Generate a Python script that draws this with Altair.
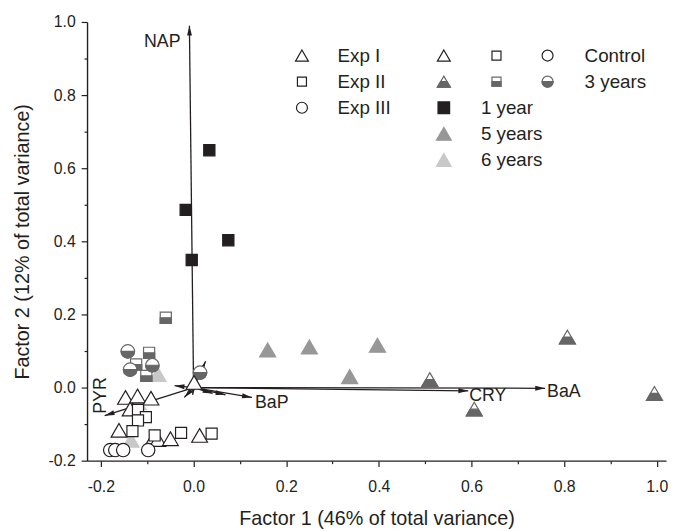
import math
import altair as alt
import pandas as pd

# ----------------------------- data -----------------------------
exp_names = ["Exp I", "Exp II", "Exp III"]
treatments = ["Control", "3 years", "1 year", "5 years", "6 years"]

# sample scores  (Factor 1, Factor 2)
ctrl_exp1_x = [0.001, -0.147, -0.121, -0.092, -0.137, -0.161, -0.085, -0.077, -0.050, 0.013]
ctrl_exp1_y = [0.014, -0.027, -0.023, -0.029, -0.059, -0.117, -0.135, -0.142, -0.140, -0.131]
ctrl_exp2_x = [-0.120, -0.103, -0.120, -0.132, -0.084, -0.027, 0.039]
ctrl_exp2_y = [-0.061, -0.081, -0.090, -0.119, -0.131, -0.124, -0.126]
ctrl_exp3_x = [-0.180, -0.169, -0.152, -0.098]
ctrl_exp3_y = [-0.171, -0.171, -0.171, -0.171]
y3_exp1_x = [0.510, 0.606, 0.807, 0.995]
y3_exp1_y = [0.022, -0.059, 0.138, -0.016]
y3_exp2_x = [-0.060, -0.096, -0.124, -0.102]
y3_exp2_y = [0.191, 0.095, 0.063, 0.032]
y3_exp3_x = [-0.142, -0.137, -0.089, 0.014]
y3_exp3_y = [0.099, 0.049, 0.061, 0.041]
y1_exp2_x = [0.034, -0.017, -0.004, 0.075]
y1_exp2_y = [0.649, 0.486, 0.349, 0.403]
y5_exp1_x = [0.160, 0.250, 0.397, 0.337]
y5_exp1_y = [0.103, 0.111, 0.116, 0.030]
y6_exp1_x = [-0.077, -0.120, -0.135]
y6_exp1_y = [0.036, -0.041, -0.144]

# variable loadings
load_names = ["NAP", "BaA", "CRY", "BaP", "PYR", "v6", "v7", "v8", "v9", "v10", "v11"]
load_labels = ["NAP", "BaA", "CRY", "BaP", "PYR", "", "", "", "", "", ""]
load_x = [-0.009, 0.759, 0.593, 0.126, -0.192, 0.026, -0.041, -0.020, -0.002, 0.041, 0.069]
load_y = [0.990, -0.002, -0.009, -0.027, -0.077, 0.072, 0.005, -0.027, -0.020, -0.016, -0.020]

x_ticks = [-0.2, -0.1, 0.0, 0.1, 0.2, 0.3, 0.4, 0.5, 0.6, 0.7, 0.8, 0.9, 1.0]
y_ticks = [-0.2, -0.1, 0.0, 0.1, 0.2, 0.3, 0.4, 0.5, 0.6, 0.7, 0.8, 0.9, 1.0]
x_title = "Factor 1 (46% of total variance)"
y_title = "Factor 2 (12% of total variance)"

# ----------------------------- style -----------------------------
FONT = "Liberation Sans"
INK = "#231f20"
DARK = "#666666"
GRAY5 = "#979797"
GRAY6 = "#c8c8c8"
W, H = 586, 444
XDOM = [-0.23, 1.02]
YDOM = [-0.2, 1.0]

TRI = "M0,-0.866L1,0.866L-1,0.866Z"
TRI_L = "M0,-1L1.15,1L-1.15,1Z"
TRI_HALF = "M-0.5,0L0.5,0L1,0.866L-1,0.866Z"
SQ = "M-0.7,-0.7L0.7,-0.7L0.7,0.7L-0.7,0.7Z"
SQ_L = "M-0.9,-0.9L0.9,-0.9L0.9,0.9L-0.9,0.9Z"
SQ_HALF = "M-0.7,0L0.7,0L0.7,0.7L-0.7,0.7Z"
CIRC = "M-0.85,0A0.85,0.85 0 1,1 0.85,0A0.85,0.85 0 1,1 -0.85,0Z"
CIRC_HALF = "M-0.85,0A0.85,0.85 0 0,0 0.85,0Z"
HEAD = "M0,0L0.5,2L-0.5,2Z"

shape_of_exp = {"Exp I": "tri", "Exp II": "sq", "Exp III": "circ"}

# ----------------------------- tables -----------------------------
series = [
    ("Exp I", "6 years", y6_exp1_x, y6_exp1_y),
    ("Exp I", "5 years", y5_exp1_x, y5_exp1_y),
    ("Exp II", "3 years", y3_exp2_x, y3_exp2_y),
    ("Exp III", "3 years", y3_exp3_x, y3_exp3_y),
    ("Exp I", "3 years", y3_exp1_x, y3_exp1_y),
    ("Exp I", "Control", ctrl_exp1_x, ctrl_exp1_y),
    ("Exp II", "Control", ctrl_exp2_x, ctrl_exp2_y),
    ("Exp III", "Control", ctrl_exp3_x, ctrl_exp3_y),
    ("Exp II", "1 year", y1_exp2_x, y1_exp2_y),
]
rows = []
for exp, trt, xs, ys in series:
    for xv, yv in zip(xs, ys):
        rows.append(dict(x=xv, y=yv, exp=exp, trt=trt, part=shape_of_exp[exp], key=trt, ord=len(rows)))
        if trt == "3 years":
            rows.append(dict(x=xv, y=yv, exp=exp, trt=trt, part=shape_of_exp[exp] + "_half", key="half", ord=len(rows)))
pts_df = pd.DataFrame(rows)

pxx = W / (XDOM[1] - XDOM[0])
pxy = H / (YDOM[1] - YDOM[0])
load_df = pd.DataFrame({"name": load_names, "label": load_labels, "x": load_x, "y": load_y})
load_df["x0"] = 0.0
load_df["y0"] = 0.0
load_df["ang"] = [
    (math.degrees(math.atan2(xv * pxx, yv * pxy)) + 360) % 360 for xv, yv in zip(load_x, load_y)
]

# ----------------------------- axes -----------------------------
lab_expr = ("abs(round(datum.value*10)) % 2 == 0 ? "
            "(datum.value < -0.001 ? '-' : '') + format(abs(datum.value), '.1f') : ''")
tick_size = {"condition": {"test": "abs(round(datum.value*10)) % 2 == 1", "value": 3}, "value": 6}

xaxis = alt.Axis(values=x_ticks, title=x_title, labelExpr=lab_expr, tickSize=tick_size,
                 labelOverlap=False, labelFlush=False, labelPadding=12, titlePadding=15)
yaxis = alt.Axis(values=y_ticks, title=y_title, labelExpr=lab_expr, tickSize=tick_size,
                 labelOverlap=False, labelFlush=False, labelPadding=6, titlePadding=16)
xscale = alt.Scale(domain=XDOM, nice=False, zero=False)
yscale = alt.Scale(domain=YDOM, nice=False, zero=False)


def X(f):
    return alt.X(f, type="quantitative", scale=xscale, axis=xaxis)


def Y(f):
    return alt.Y(f, type="quantitative", scale=yscale, axis=yaxis)


# ----------------------------- layers -----------------------------
rules = alt.Chart(load_df).mark_rule(color=INK, strokeWidth=1.3).encode(
    x=X("x"), y=Y("y"), x2="x0:Q", y2="y0:Q")

heads = alt.Chart(load_df).mark_point(shape=HEAD, filled=True, color=INK, size=100,
                                      opacity=1, strokeWidth=0).encode(
    x=X("x"), y=Y("y"), angle=alt.Angle("ang:Q", scale=None))

pts = alt.Chart(pts_df).mark_point(opacity=1, strokeWidth=1.2).encode(
    x=X("x"), y=Y("y"),
    shape=alt.Shape("part:N", legend=None, scale=alt.Scale(
        domain=["tri", "sq", "circ", "tri_half", "sq_half", "circ_half"],
        range=[TRI, SQ, CIRC, TRI_HALF, SQ_HALF, CIRC_HALF])),
    fill=alt.Fill("key:N", legend=None, scale=alt.Scale(
        domain=treatments + ["half"], range=["white", "white", INK, GRAY5, GRAY6, DARK])),
    stroke=alt.Stroke("key:N", legend=None, scale=alt.Scale(
        domain=treatments + ["half"], range=[INK, DARK, INK, GRAY5, GRAY6, DARK])),
    size=alt.Size("trt:N", legend=None, scale=alt.Scale(
        domain=treatments, range=[255, 270, 310, 290, 265])),
    order=alt.Order("ord:Q"),
)

label_styles = {
    "NAP": dict(align="right", dx=-9, dy=22),
    "BaA": dict(align="left", dx=2, dy=9),
    "CRY": dict(align="left", dx=1, dy=10),
    "BaP": dict(align="left", dx=3, dy=11),
    "PYR": dict(align="left", dx=2, dy=1, angle=270),
}
texts = []
for nm, st in label_styles.items():
    texts.append(
        alt.Chart(load_df).transform_filter(alt.datum.name == nm).mark_text(
            font=FONT, fontSize=18, color=INK, baseline="alphabetic", **st).encode(
            x=X("x"), y=Y("y"), text="label:N"))


def legend_layer(keys, shapes, fills, strokes, lx, ly, show_labels=True, label_offset=27):
    leg = alt.Legend(title=None, orient="none", legendX=lx, legendY=ly, symbolSize=170,
                     labelFont=FONT, labelFontSize=19, labelColor=INK, labelOffset=label_offset,
                     rowPadding=6.4, padding=0, symbolStrokeWidth=1.2, symbolOpacity=1,
                     labelExpr=("indexof(datum.label, '_') == 0 ? '' : datum.label")
                     if show_labels else "''")
    df = pd.DataFrame({"k": keys})
    return alt.Chart(df).transform_filter("false").mark_point(opacity=1).encode(
        shape=alt.Shape("k:N", scale=alt.Scale(domain=keys, range=shapes), legend=leg),
        fill=alt.Fill("k:N", scale=alt.Scale(domain=keys, range=fills), legend=leg),
        stroke=alt.Stroke("k:N", scale=alt.Scale(domain=keys, range=strokes), legend=leg),
    )


LY = 24.5
legends = [
    legend_layer(exp_names, [TRI, SQ, CIRC], ["white"] * 3, [INK] * 3, 208, LY, label_offset=26.5),
    legend_layer(["_b1a", "_b1b", treatments[2], treatments[3], treatments[4]],
                 [TRI, TRI, SQ_L, TRI_L, TRI_L],
                 ["white", "white", INK, GRAY5, GRAY6],
                 [INK, DARK, INK, GRAY5, GRAY6], 351.6, LY, label_offset=28),
    legend_layer(["_b1ha", "_b1hb"], [TRI_HALF, TRI_HALF], ["transparent", DARK],
                 ["transparent", DARK], 351.6, LY, show_labels=False),
    legend_layer(["_b2a", "_b2b"], [SQ, SQ], ["white", "white"], [INK, DARK], 404.9, LY,
                 show_labels=False),
    legend_layer(["_b2ha", "_b2hb"], [SQ_HALF, SQ_HALF], ["transparent", DARK],
                 ["transparent", DARK], 404.9, LY, show_labels=False),
    legend_layer([treatments[0], treatments[1]], [CIRC, CIRC], ["white", "white"], [INK, DARK],
                 456.6, LY, label_offset=28),
    legend_layer(["_b3ha", "_b3hb"], [CIRC_HALF, CIRC_HALF], ["transparent", DARK],
                 ["transparent", DARK], 456.6, LY, show_labels=False),
]

chart = alt.layer(rules, heads, pts, *texts, *legends).resolve_scale(
    shape="independent", fill="independent", stroke="independent", size="independent"
).resolve_legend(
    shape="independent", fill="independent", stroke="independent"
).properties(
    width=W, height=H,
    padding={"left": 80, "top": 11, "right": 3, "bottom": 66},
    autosize=alt.AutoSizeParams(type="none"),
).configure_view(stroke=None).configure_axis(
    grid=False, domainColor=INK, domainWidth=1.4, tickColor=INK, tickWidth=1.2,
    labelFont=FONT, labelFontSize=16, labelColor=INK,
    titleFont=FONT, titleFontSize=20, titleFontWeight="normal", titleColor=INK,
)

chart.save("out.html", embed_options={"renderer": "svg", "actions": False})
